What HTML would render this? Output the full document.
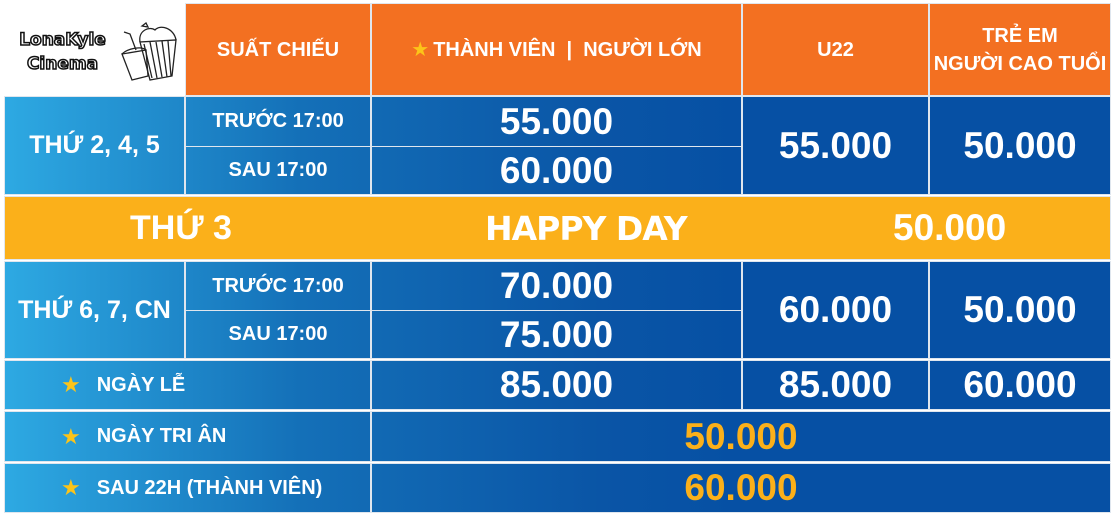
<!DOCTYPE html>
<html><head><meta charset="utf-8"><style>
body{margin:0;width:1117px;height:516px;background:#fff;position:relative;overflow:hidden;font-family:"Liberation Sans","DejaVu Sans",sans-serif;font-weight:bold;color:#fff}
.c{position:absolute;box-sizing:border-box;display:flex;align-items:center;justify-content:center;text-align:center;
background:linear-gradient(90deg,#2eaae3 0px,#1470b8 300px,#0a55a6 600px,#0650a4 740px,#0650a4 1117px);background-size:1117px 100%;background-repeat:no-repeat;box-shadow:0 0 0 1px #dfe6ee}
.h{background:#f37021;font-size:20px;line-height:28px}
.p{font-size:37px}
.s{font-size:20px}
.y{color:#fbb01a}
.st{color:#fcc419;font-size:22px;margin-right:16px}
</style></head><body>
<div style="position:absolute;left:8px;top:20px;width:170px;height:60px">
 <div style="position:absolute;left:2px;top:8px;font-family:'DejaVu Sans',sans-serif;font-size:17px;color:#fff;-webkit-text-stroke:1.5px #111;font-weight:bold;line-height:24px;text-align:center;width:105px">LonaKyle<br>Cinema</div>
 <svg style="position:absolute;left:112px;top:0" width="60" height="62" viewBox="0 0 60 62" fill="none" stroke="#222" stroke-width="1.3"><path d="M20 22 L30 60 L52 56 L56 20 Z"/><path d="M24 24 L32 58 M30 22 L37 58 M36 22 L42 57 M42 21 L47 57 M48 21 L51 56"/><path d="M20 22 C18 10 30 6 35 10 C40 4 54 8 56 20"/><path d="M2 34 L12 60 L28 56 L26 30 Z"/><path d="M2 34 C8 28 22 26 26 30"/><path d="M16 30 L10 14 L4 12"/><path d="M22 6 l4 -3 l2 4 Z"/></svg>
</div>
<div class="c h" style="left:186px;top:4px;width:184px;height:91px">SUẤT CHIẾU</div>
<div class="c h" style="left:372px;top:4px;width:369px;height:91px"><span style="color:#fcc419;margin-right:4px">★</span>THÀNH VIÊN &nbsp;|&nbsp; NGƯỜI LỚN</div>
<div class="c h" style="left:743px;top:4px;width:185px;height:91px">U22</div>
<div class="c h" style="left:930px;top:4px;width:180px;height:91px">TRẺ EM<br>NGƯỜI CAO TUỔI</div>

<div class="c" style="left:5px;top:97px;width:179px;height:97px;font-size:25px;background-position:-5px 0">THỨ 2, 4, 5</div>
<div class="c s" style="left:186px;top:97px;width:184px;height:49px;background-position:-186px 0">TRƯỚC 17:00</div>
<div class="c s" style="left:186px;top:147px;width:184px;height:47px;background-position:-186px 0">SAU 17:00</div>
<div class="c p" style="left:372px;top:97px;width:369px;height:49px;background-position:-372px 0">55.000</div>
<div class="c p" style="left:372px;top:147px;width:369px;height:47px;background-position:-372px 0">60.000</div>
<div class="c p" style="left:743px;top:97px;width:185px;height:97px;background-position:-743px 0">55.000</div>
<div class="c p" style="left:930px;top:97px;width:180px;height:97px;background-position:-930px 0">50.000</div>

<div class="c" style="left:5px;top:197px;width:1105px;height:62px;background:#fbb01a;font-size:34px">
 <span style="position:absolute;left:125px">THỨ 3</span>
 <span style="position:absolute;left:480px;font-family:'DejaVu Sans',sans-serif;font-size:33px;letter-spacing:-1px">HAPPY DAY</span>
 <span style="position:absolute;left:888px;font-size:37px">50.000</span>
</div>

<div class="c" style="left:5px;top:262px;width:179px;height:96px;font-size:25px;background-position:-5px 0">THỨ 6, 7, CN</div>
<div class="c s" style="left:186px;top:262px;width:184px;height:48px;background-position:-186px 0">TRƯỚC 17:00</div>
<div class="c s" style="left:186px;top:311px;width:184px;height:47px;background-position:-186px 0">SAU 17:00</div>
<div class="c p" style="left:372px;top:262px;width:369px;height:48px;background-position:-372px 0">70.000</div>
<div class="c p" style="left:372px;top:311px;width:369px;height:47px;background-position:-372px 0">75.000</div>
<div class="c p" style="left:743px;top:262px;width:185px;height:96px;background-position:-743px 0">60.000</div>
<div class="c p" style="left:930px;top:262px;width:180px;height:96px;background-position:-930px 0">50.000</div>

<div class="c s" style="left:5px;top:361px;width:365px;height:48px;justify-content:flex-start;padding-left:56px;background-position:-5px 0"><span class="st">★</span>NGÀY LỄ</div>
<div class="c p" style="left:372px;top:361px;width:369px;height:48px;background-position:-372px 0">85.000</div>
<div class="c p" style="left:743px;top:361px;width:185px;height:48px;background-position:-743px 0">85.000</div>
<div class="c p" style="left:930px;top:361px;width:180px;height:48px;background-position:-930px 0">60.000</div>

<div class="c s" style="left:5px;top:412px;width:365px;height:49px;justify-content:flex-start;padding-left:56px;background-position:-5px 0"><span class="st">★</span>NGÀY TRI ÂN</div>
<div class="c p y" style="left:372px;top:412px;width:738px;height:49px;background-position:-372px 0">50.000</div>

<div class="c s" style="left:5px;top:464px;width:365px;height:48px;justify-content:flex-start;padding-left:56px;background-position:-5px 0"><span class="st">★</span>SAU 22H (THÀNH VIÊN)</div>
<div class="c p y" style="left:372px;top:464px;width:738px;height:48px;background-position:-372px 0">60.000</div>
</body></html>
